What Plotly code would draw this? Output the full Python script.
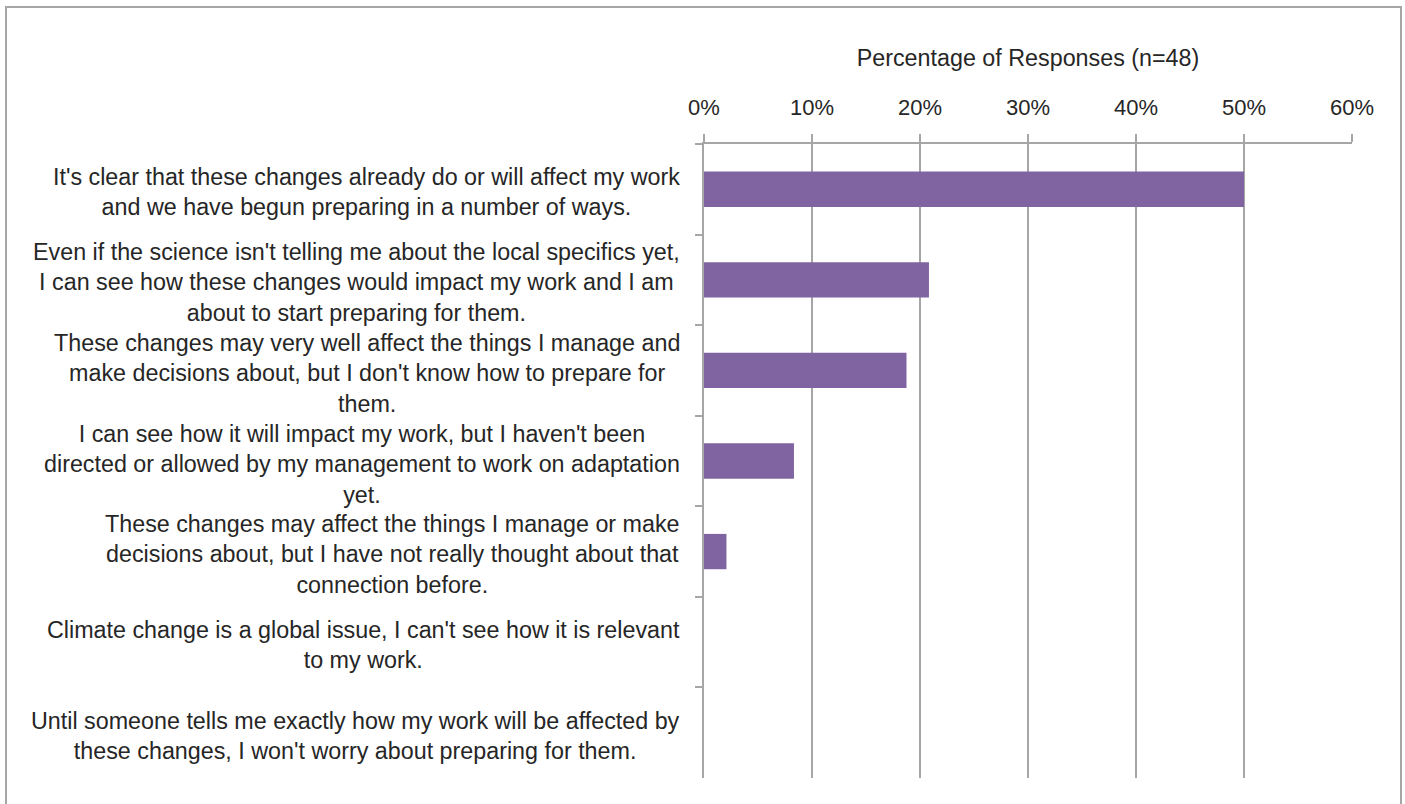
import plotly.graph_objects as go

# Survey responses (n=48), share of respondents per statement
statements = [
    "It's clear that these changes already do or will affect my work<br>and we have begun preparing in a number of ways.",
    "Even if the science isn't telling me about the local specifics yet,<br>I can see how these changes would impact my work and I am<br>about to start preparing for them.",
    "These changes may very well affect the things I manage and<br>make decisions about, but I don't know how to prepare for<br>them.",
    "I can see how it will impact my work, but I haven't been<br>directed or allowed by my management to work on adaptation<br>yet.",
    "These changes may affect the things I manage or make<br>decisions about, but I have not really thought about that<br>connection before.",
    "Climate change is a global issue, I can't see how it is relevant<br>to my work.",
    "Until someone tells me exactly how my work will be affected by<br>these changes, I won't worry about preparing for them.",
]
shares = [0.5, 0.2083, 0.1875, 0.0833, 0.0208, 0.0, 0.0]
x_ticks = [0, 0.1, 0.2, 0.3, 0.4, 0.5, 0.6]
x_title = "Percentage of Responses (n=48)"

W, H = 1405, 804
L, R, T, B = 704, 53, 144, 26
pw = W - L - R
ph = H - T - B

FONT = "Liberation Sans"
TXT = "#262626"
GRID = "#a6a6a6"
FS = 23.3
cats = [f"s{i}" for i in range(len(statements))]

fig = go.Figure(
    go.Bar(
        x=shares,
        y=cats,
        orientation="h",
        width=0.39,
        marker=dict(color="#8064A2", line=dict(width=0)),
        hoverinfo="skip",
    )
)

# statement labels: centred text blocks right-aligned against the axis
def px_x(px):
    return (px - L) / pw

for c, s in zip(cats, statements):
    fig.add_annotation(
        x=px_x(682), xref="paper", y=c, yref="y",
        text=s, showarrow=False, xanchor="right", yanchor="middle",
        align="center", yshift=-3,
        font=dict(family=FONT, size=FS, color=TXT),
    )

# outer frame
fig.add_shape(
    type="rect", xref="paper", yref="paper",
    x0=px_x(6), x1=px_x(1401),
    y0=1 - (812 - T) / ph, y1=1 + (T - 7) / ph,
    line=dict(color=GRID, width=2), fillcolor="rgba(0,0,0,0)",
)

fig.update_layout(
    width=W, height=H,
    margin=dict(l=L, r=R, t=T, b=B),
    paper_bgcolor="white", plot_bgcolor="white",
    showlegend=False,
    font=dict(family=FONT, size=FS, color=TXT),
    xaxis=dict(
        side="top", range=[0, 0.6], tickvals=x_ticks, tickformat=".0%",
        showgrid=True, gridcolor=GRID, gridwidth=2,
        showline=True, linecolor=GRID, linewidth=2,
        ticks="outside", ticklen=8, tickcolor=GRID, tickwidth=2,
        ticklabelstandoff=10,
        zeroline=False,
        tickfont=dict(family=FONT, size=22, color=TXT),
        title=dict(text=x_title, font=dict(family=FONT, size=FS, color=TXT), standoff=22),
        fixedrange=True,
    ),
    yaxis=dict(
        categoryorder="array", categoryarray=cats, autorange="reversed",
        showticklabels=False, showgrid=False, zeroline=False,
        showline=True, linecolor=GRID, linewidth=2,
        ticks="outside", ticklen=7, tickcolor=GRID, tickwidth=2,
        tickson="boundaries",
        fixedrange=True,
    ),
)

fig.write_html("out.html", config={"displayModeBar": False})
